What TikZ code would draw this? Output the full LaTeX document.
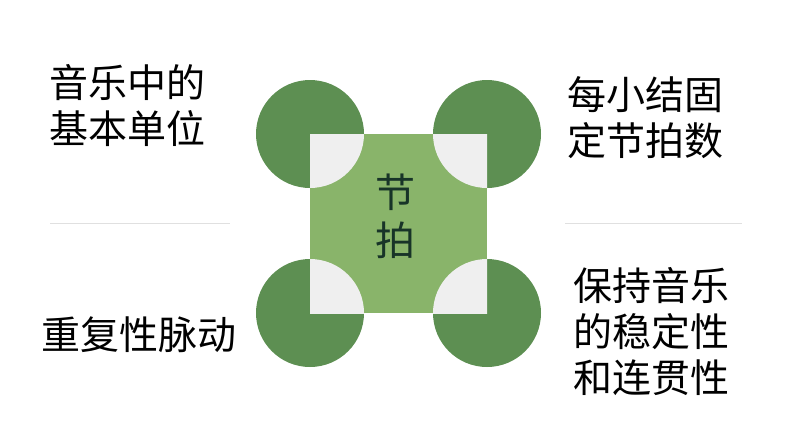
\documentclass[tikz,border=0pt]{standalone}
\usepackage{fontspec}
\newfontfamily\cjk{Noto Sans CJK SC}
\definecolor{darkleaf}{RGB}{93,143,82}
\definecolor{lightleaf}{RGB}{137,180,106}
\definecolor{petal}{RGB}{239,239,239}
\definecolor{centertext}{RGB}{24,52,40}
\tikzset{
    label text/.style = {font = \cjk\fontsize{39}{46}\selectfont, align = left, inner sep = 0pt},
    rule line/.style = {draw = black!12, line width = 0.8pt}
}
\begin{document}
\begin{tikzpicture}[x = 1pt, y = -1pt]
        \useasboundingbox (0, 0) rectangle (794, 447);
        % corner circles
        \foreach \cx/\cy in {310/134, 487/134, 310/313, 487/313}
            \fill[darkleaf] (\cx, \cy) circle(54);
        \fill[lightleaf] (310, 134) rectangle (487, 313);
        \begin{scope}
            \clip (310, 134) rectangle (487, 313);
            \foreach \cx/\cy in {310/134, 487/134, 310/313, 487/313}
                \fill[petal] (\cx, \cy) circle(54);
        \end{scope}
        \node[font = \cjk\fontsize{40}{48}\selectfont, text = centertext, align = center, inner sep = 0pt](center) at (395, 216){节\\拍};
        % side texts
        \node[label text](topleft) at (127, 106){音乐中的\\基本单位};
        \node[label text](topright) at (645, 118){每小结固\\定节拍数};
        \node[label text](bottomleft) at (139, 335){重复性脉动};
        \node[label text](bottomright) at (651, 332){保持音乐\\的稳定性\\和连贯性};
        \coordinate(lineLa) at (50, 223);
        \coordinate(lineLb) at (230, 223);
        \coordinate(lineRa) at (565, 223);
        \coordinate(lineRb) at (742, 223);
        \draw[rule line] (lineLa) -- (lineLb);
        \draw[rule line] (lineRa) -- (lineRb);
    \end{tikzpicture}
\end{document}
